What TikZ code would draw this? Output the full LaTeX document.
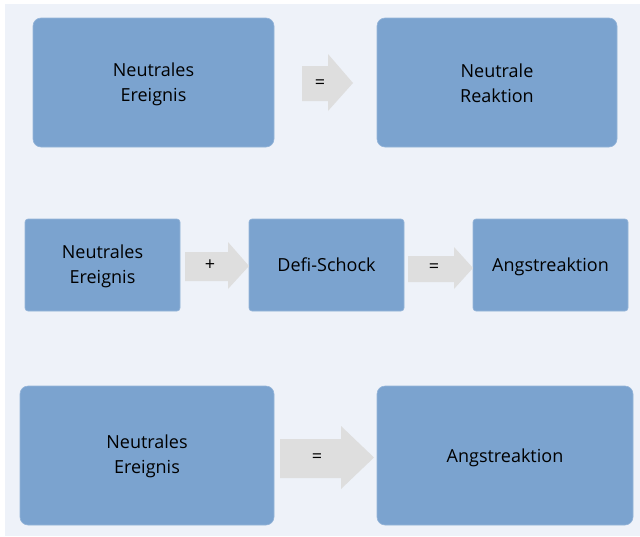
\documentclass[tikz,border=0pt]{standalone}
\usepackage{fontspec}
\setmainfont{Open Sans}
\definecolor{bgc}{HTML}{EEF2F9}
\definecolor{boxc}{HTML}{7BA3CF}
\definecolor{arrc}{HTML}{DEDEDE}
\begin{document}
\begin{tikzpicture}[x=1pt,y=-1pt,
  box/.style={fill=boxc,draw=boxc!80!white,line width=0.6pt},
  txt/.style={align=center,font=\fontsize{18}{24.5}\selectfont,text=black,inner sep=0pt},
  sym/.style={font=\fontsize{18}{20}\selectfont,inner sep=0pt},
  blockarrow/.style={fill=arrc}]
\useasboundingbox (0,0) rectangle (640,536);
\fill[white] (0,0) rectangle (640,536);
\fill[bgc] (5,4) rectangle (640,536);
% row 1
\draw[box,rounded corners=8pt] (33,18) rectangle (274,147);
\node[txt] (a1) at (153.5,84.5) {Neutrales\\Ereignis};
\draw[box,rounded corners=8pt] (377,18) rectangle (617,147);
\node[txt] (b1) at (497,83) {Neutrale\\Reaktion};
\fill[blockarrow] (302,66) -- (328,66) -- (328,54) -- (353,83) -- (328,111) -- (328,101) -- (302,101) -- cycle;
\node[sym] (e1) at (320,84) {=};
% row 2
\draw[box,rounded corners=3pt] (25,219) rectangle (180,311);
\node[txt] (a2) at (102.5,266.5) {Neutrales\\Ereignis};
\draw[box,rounded corners=3pt] (249,219) rectangle (404,311);
\node[txt] (b2) at (326.5,264.5) {Defi-Schock};
\draw[box,rounded corners=3pt] (473,219) rectangle (628,311);
\node[txt] (c2) at (550.5,266.5) {Angstreaktion};
\fill[blockarrow] (185,252) -- (228,252) -- (228,242) -- (249,266) -- (228,289) -- (228,281) -- (185,281) -- cycle;
\node[sym] (p2) at (210,265) {+};
\fill[blockarrow] (408,256) -- (454,256) -- (454,247) -- (473,268) -- (454,289) -- (454,282) -- (408,282) -- cycle;
\node[sym] (e2) at (434,268) {=};
% row 3
\draw[box,rounded corners=8pt] (20,386) rectangle (274,525);
\node[txt] (a3) at (147,456.5) {Neutrales\\Ereignis};
\draw[box,rounded corners=8pt] (377,386) rectangle (633,525);
\node[txt] (b3) at (505,457.5) {Angstreaktion};
\fill[blockarrow] (280,439) -- (341,439) -- (341,426) -- (374,457.5) -- (341,489) -- (341,478) -- (280,478) -- cycle;
\node[sym] (e3) at (317,458) {=};
\end{tikzpicture}
\end{document}
